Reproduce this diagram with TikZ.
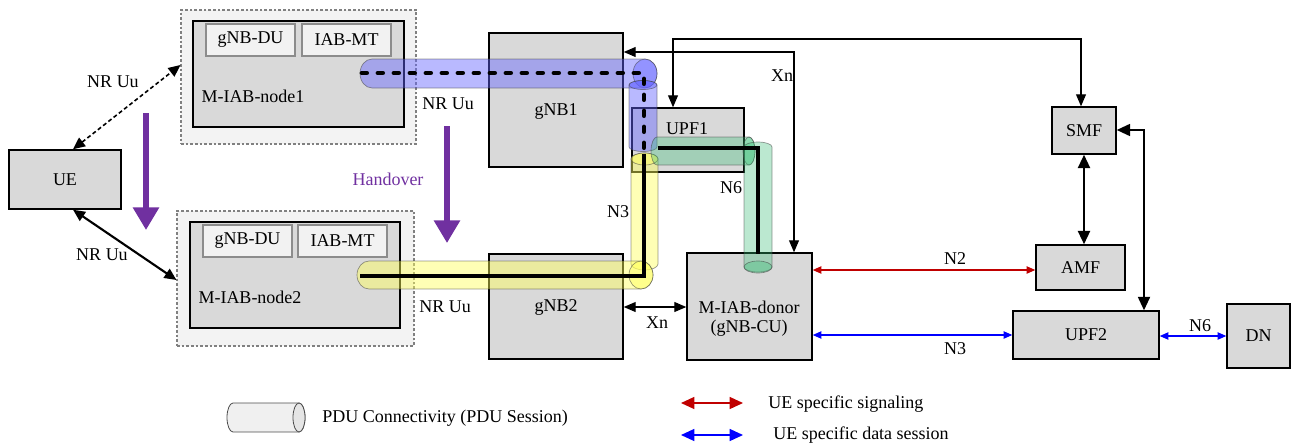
\documentclass[tikz,border=0pt]{standalone}
\usepackage{fontspec}
\setmainfont{Liberation Serif}
\usetikzlibrary{arrows.meta,fit}
\definecolor{boxgray}{RGB}{217,217,217}
\definecolor{outergray}{RGB}{243,243,243}
\definecolor{subgray}{RGB}{242,242,242}
\definecolor{hpurple}{RGB}{112,48,160}
\definecolor{sigred}{RGB}{192,0,0}
\definecolor{datablue}{RGB}{0,0,255}
\definecolor{tblue}{RGB}{100,100,255}
\definecolor{tyellow}{RGB}{255,255,90}
\definecolor{tgreen}{RGB}{60,190,120}
% horizontal cylinder: back centre x, front centre x, centre y, radius, end x-radius, style
\newcommand\hcyl[6]{%
\path[#6] (#1,{#3-#4}) -- (#2,{#3-#4}) .. controls +({0.55*#5},0) and +(0,{-0.55*#4}) .. ({#2+#5},#3)
 .. controls +(0,{0.55*#4}) and +({0.55*#5},0) .. (#2,{#3+#4}) -- (#1,{#3+#4})
 .. controls +({-0.55*#5},0) and +(0,{0.55*#4}) .. ({#1-#5},#3)
 .. controls +(0,{-0.55*#4}) and +({-0.55*#5},0) .. (#1,{#3-#4}) -- cycle;}
% vertical cylinder: centre x, top centre y, bottom centre y, radius, end y-radius, style
\newcommand\vcyl[6]{%
\path[#6] ({#1-#4},#2) .. controls +(0,{-0.55*#5}) and +({-0.55*#4},0) .. (#1,{#2-#5})
 .. controls +({0.55*#4},0) and +(0,{-0.55*#5}) .. ({#1+#4},#2) -- ({#1+#4},#3)
 .. controls +(0,{0.55*#5}) and +({0.55*#4},0) .. (#1,{#3+#5})
 .. controls +({-0.55*#4},0) and +(0,{0.55*#5}) .. ({#1-#4},#3) -- cycle;}
\begin{document}
\begin{tikzpicture}[x=0.75pt,y=-0.75pt,
 every node/.style={font=\fontsize{13.5}{16}\selectfont, inner sep=0pt},
 box/.style={draw=black, line width=1.1pt, fill=boxgray, inner sep=0pt},
 subbox/.style={draw=black!45, line width=1.3pt, fill=subgray, inner sep=0pt},
 outer/.style={draw=black!50, dash pattern=on 2pt off 1.5pt, line width=0.8pt, fill=outergray, inner sep=0pt},
 tip/.style={Triangle[length=9pt,width=8pt]},
 link/.style={line width=0.8pt, {Triangle[length=9pt,width=7.5pt]}-{Triangle[length=9pt,width=7.5pt]}},
 ifc/.style={line width=0.9pt, {Triangle[length=6.5pt,width=5.5pt]}-{Triangle[length=6.5pt,width=5.5pt]}},
 tubeline/.style={draw=black!75, draw opacity=0.55, line width=0.5pt},
 bluetube/.style={tubeline, fill=tblue, fill opacity=0.45},
 yellowtube/.style={tubeline, fill=tyellow, fill opacity=0.45},
 greentube/.style={tubeline, fill=tgreen, fill opacity=0.35},
 pathline/.style={line width=3.6pt, black},
 handarrow/.style={line width=3.8pt, hpurple, -{Triangle[length=17pt,width=19pt]}}
]
\useasboundingbox (0,0) rectangle (1291,443);

% M-IAB-node1
\node[outer, fit={(181,10) (416,144)}] (n1out) {};
\node[box, fit={(193,21) (404,127)}] (n1in) {};
\node[subbox, fit={(206,24) (295,56)}] (du1) {};
\node[subbox, fit={(302,24) (391,56)}] (mt1) {};
\node at (du1.center) {gNB-DU};
\node at (mt1.center) {IAB-MT};
\node at (253,96) {M-IAB-node1};

% M-IAB-node2
\node[outer, fit={(177,211) (414,346)}] (n2out) {};
\node[box, fit={(190,222) (400,328)}] (n2in) {};
\node[subbox, fit={(203,225) (292,257)}] (du2) {};
\node[subbox, fit={(298,225) (387,257)}] (mt2) {};
\node at (du2.center) {gNB-DU};
\node at (mt2.center) {IAB-MT};
\node at (250,297) {M-IAB-node2};

% UE
\node[box, fit={(9,150) (121,209)}] (ue) {};
\node at (ue.center) {UE};

% RAN / core boxes
\node[box, fit={(489,33) (623,167)}] (gnb1) {};
\node at (556,111) {gNB1};
\node[box, fit={(489,254) (623,359)}] (gnb2) {};
\node at (556,307) {gNB2};
\node[box, fit={(632,108) (744,172)}] (upf1) {};
\node at (687,129) {UPF1};
\node[box, fit={(687,253) (812,360)}] (donor) {};
\node at (749,307) {M-IAB-donor};
\node at (749,328) {(gNB-CU)};
\node[box, fit={(1052,107) (1116,154)}] (smf) {};
\node at (smf.center) {SMF};
\node[box, fit={(1036,245) (1125,290)}] (amf) {};
\node at (amf.center) {AMF};
\node[box, fit={(1013,311) (1159,359)}] (upf2) {};
\node at (upf2.center) {UPF2};
\node[box, fit={(1227,304) (1290,368)}] (dn) {};
\node at (dn.center) {DN};

% PDU session tubes
\hcyl{372}{645}{73.5}{14.5}{12}{bluetube}
\path[bluetube] (645,73.5) ellipse[x radius=12, y radius=14.5];
\vcyl{643}{85}{147}{14}{4.5}{bluetube}
\path[bluetube] (643,85) ellipse[x radius=14, y radius=4.5];
\vcyl{644.5}{159}{264}{13.5}{6}{yellowtube}
\path[yellowtube] (644.5,159) ellipse[x radius=13.5, y radius=6];
\hcyl{369}{641}{275}{14}{12}{yellowtube}
\path[yellowtube] (641,275) ellipse[x radius=12, y radius=14];
\hcyl{657}{749}{151}{14}{6}{greentube}
\path[greentube] (749,151) ellipse[x radius=6, y radius=14];
\vcyl{758}{147}{267}{14}{5}{greentube}
\path[greentube] (758,267) ellipse[x radius=14, y radius=6];

% user-plane paths
\draw[pathline, line cap=round, dash pattern=on 3.5pt off 8.5pt] (362,73) -- (644,73) -- (644,150);
\draw[pathline] (360,276) -- (644,276) -- (644,154);
\draw[pathline] (658,148) -- (758,148) -- (758,254);

% control / Xn links
\draw[link] (gnb1.east |- 0,52) -| (donor.north -| 794,0);
\node at (782,76) {Xn};
\coordinate (smfbend) at (1081,39);
\draw[link] (upf1.north -| 673,0) |- (smfbend) -- (smf.north -| 1081,0);
\draw[link] (gnb2.east |- 0,307) -- (donor.west |- 0,307);
\node at (657,323) {Xn};
\draw[line width=1.6pt, {Triangle[length=10pt,width=9pt]}-{Triangle[length=10pt,width=9pt]}] (smf.south -| 1084,0) -- (amf.north -| 1084,0);
\draw[line width=1.3pt, {Triangle[length=10pt,width=9pt]}-{Triangle[length=10pt,width=9pt]}] (smf.east |- 0,130) -| (upf2.north -| 1144,0);

\draw[ifc, sigred] (donor.east |- 0,270) -- (amf.west |- 0,270);
\node at (955,259) {N2};
\draw[ifc, datablue] (donor.east |- 0,335) -- (upf2.west |- 0,335);
\node at (955,349) {N3};
\draw[ifc, datablue] (upf2.east |- 0,336) -- (dn.west |- 0,336);
\node at (1200,326) {N6};

% radio links
\draw[line width=1.2pt, dash pattern=on 3pt off 2pt, {Triangle[length=9pt,width=8pt]}-{Triangle[length=9pt,width=8pt]}] (ue.north -| 73,0) -- (n1out.west |- 0,65);
\node at (113,82) {NR Uu};
\draw[line width=1.6pt, {Triangle[length=9pt,width=8pt]}-{Triangle[length=9pt,width=8pt]}] (ue.south -| 73,0) -- (n2out.west |- 0,280);
\node at (102,255) {NR Uu};
\node at (448,104) {NR Uu};
\node at (445,307) {NR Uu};
\node at (618,212) {N3};
\node at (731,188) {N6};

% handover
\coordinate (ho1a) at (146,113); \coordinate (ho1b) at (146,230);
\coordinate (ho2a) at (447,126); \coordinate (ho2b) at (447,243);
\draw[handarrow] (ho1a) -- (ho1b);
\draw[handarrow] (ho2a) -- (ho2b);
\node[text=hpurple] at (388,179) {Handover};

% legend
\hcyl{233}{299}{417.5}{14.5}{6}{fill=black!6, draw=black!70, line width=0.6pt}
\path[draw=black!70, line width=0.6pt, fill=black!10] (299,417.5) ellipse[x radius=6, y radius=14.5];
\node[anchor=west] at (322,418) {PDU Connectivity (PDU Session)};
\coordinate (sigA) at (681,403); \coordinate (sigB) at (743,403);
\coordinate (datA) at (681,435); \coordinate (datB) at (743,435);
\draw[line width=1pt, sigred, {Triangle[length=10pt,width=9pt]}-{Triangle[length=10pt,width=9pt]}] (sigA) -- (sigB);
\draw[line width=1pt, datablue, {Triangle[length=10pt,width=9pt]}-{Triangle[length=10pt,width=9pt]}] (datA) -- (datB);
\node[anchor=west] at (768,404) {UE specific signaling};
\node[anchor=west] at (773,435) {UE specific data session};
\end{tikzpicture}
\end{document}
